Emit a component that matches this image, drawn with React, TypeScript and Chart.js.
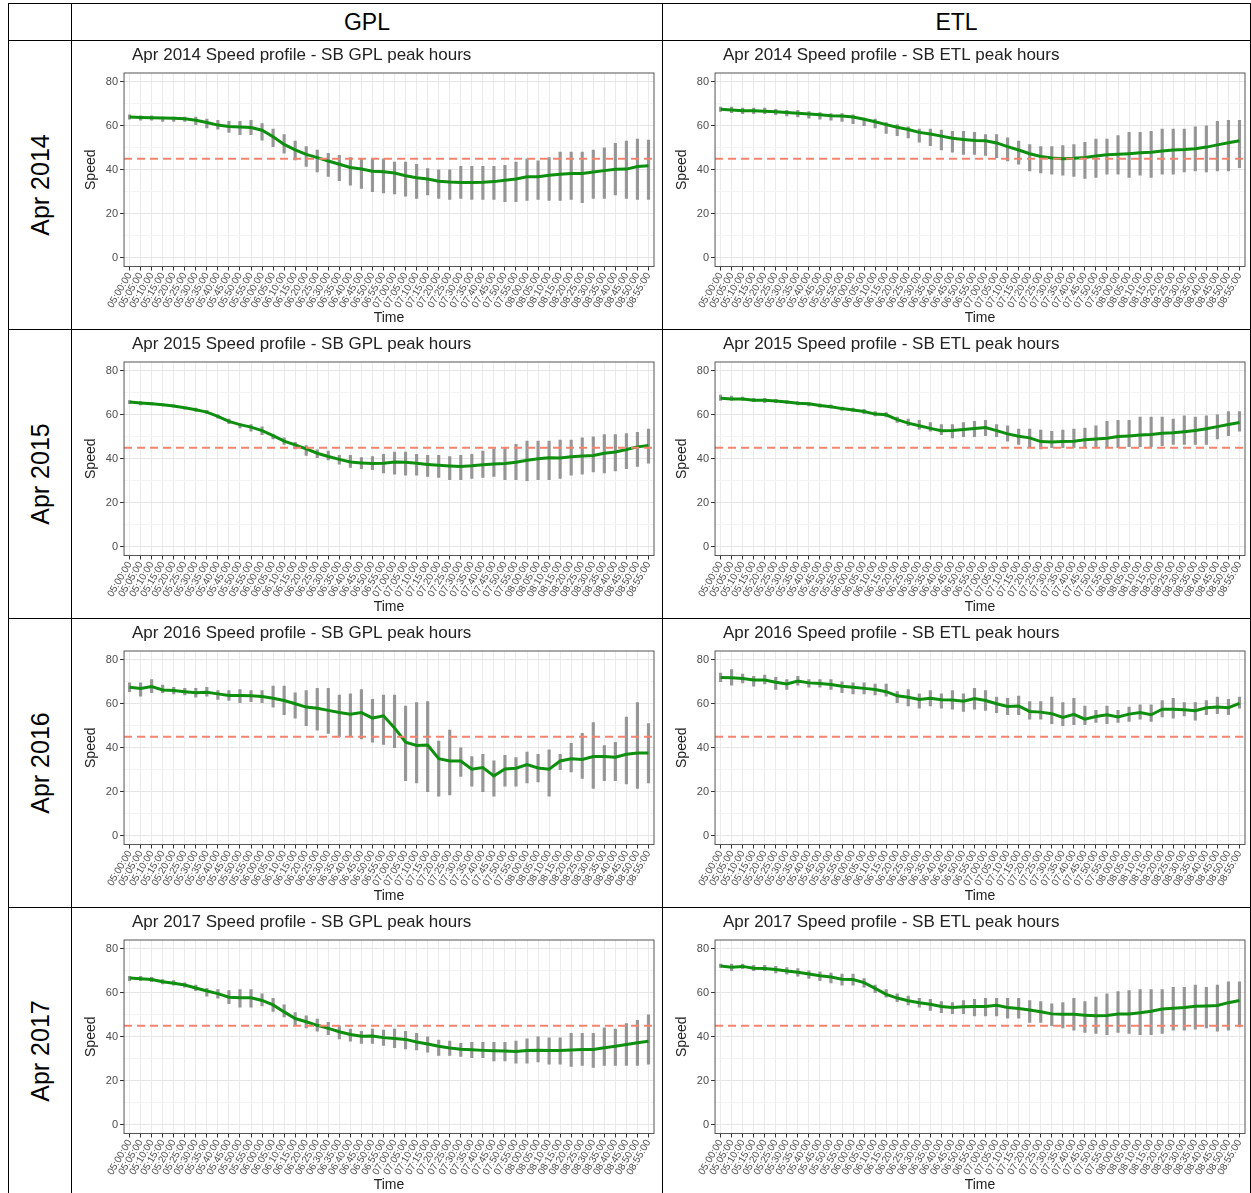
import { Chart, registerables } from "chart.js"
import { FC, useEffect, useRef } from "react"

Chart.register(...registerables)

const times: string[] = [
    "05:00:00", "05:05:00", "05:10:00", "05:15:00", "05:20:00", "05:25:00", "05:30:00", "05:35:00",
    "05:40:00", "05:45:00", "05:50:00", "05:55:00", "06:00:00", "06:05:00", "06:10:00", "06:15:00",
    "06:20:00", "06:25:00", "06:30:00", "06:35:00", "06:40:00", "06:45:00", "06:50:00", "06:55:00",
    "07:00:00", "07:05:00", "07:10:00", "07:15:00", "07:20:00", "07:25:00", "07:30:00", "07:35:00",
    "07:40:00", "07:45:00", "07:50:00", "07:55:00", "08:00:00", "08:05:00", "08:10:00", "08:15:00",
    "08:20:00", "08:25:00", "08:30:00", "08:35:00", "08:40:00", "08:45:00", "08:50:00", "08:55:00"
]
const yTicks = [0, 20, 40, 60, 80]
const threshold = 45

// GPL 2014
const gpl14Mean = [64, 63.8, 63.7, 63.5, 63.4, 63.2, 62.5, 61.5, 60.3, 59.7, 59.4, 59.2, 58, 55, 51.5, 49, 47, 45.5, 44, 42.5, 41, 40.3, 39.3, 39.1, 38.5, 37.3, 36.4, 35.8, 34.8, 34.4, 34.2, 34.2, 34.3, 34.6, 35.2, 35.8, 36.8, 36.8, 37.5, 38, 38.3, 38.3, 39, 39.6, 40.2, 40.3, 41.5, 41.8]
const gpl14Lo = [63, 62.5, 62.5, 62, 62, 62, 60.5, 59, 58.5, 57, 56, 56, 53.5, 50.5, 47.5, 44.5, 41.5, 39, 37, 35, 33, 31.5, 30, 29.5, 29, 28, 27, 28.5, 27, 26.5, 27, 26.5, 26.5, 26.5, 25.5, 25.5, 26, 26.5, 26, 26, 26.5, 25, 27, 27, 28.5, 27, 26.5, 26.5]
const gpl14Hi = [65, 64.5, 64.5, 64, 64, 64, 64, 63, 62.5, 62, 62, 62.5, 61, 58.5, 56, 53, 50.5, 49, 47.5, 46.5, 45.5, 45, 45, 45, 43.5, 43.5, 42.5, 40.5, 40, 40, 41.5, 41.5, 41.5, 41.5, 42, 43.5, 45, 44, 45.5, 48, 48, 48, 49, 50, 52, 53, 54, 53.5]

// ETL 2014
const etl14Mean = [67.5, 67.2, 66.8, 66.8, 66.6, 66.4, 66, 65.7, 65.4, 65, 64.6, 64.4, 64, 63, 61.8, 60.5, 59.3, 58.3, 57, 56.3, 55.3, 54.3, 53.8, 53.3, 53.2, 52.2, 50.5, 49, 47.3, 46, 45.3, 45, 45.2, 45.6, 46.2, 46.8, 47, 47.3, 47.7, 48, 48.5, 49, 49.2, 49.6, 50.3, 51.3, 52.3, 53.2]
const etl14Lo = [66.5, 66, 65.5, 65.5, 65.5, 65, 64.5, 64, 63.5, 63, 62.5, 62, 61, 60, 59, 56.5, 55.5, 54.5, 52.5, 51, 49, 48, 47, 47, 46.5, 45.5, 44, 42.5, 39.5, 38.5, 38, 37.5, 37, 36, 36.5, 38, 38, 36.5, 37.5, 36.5, 38, 38, 39, 39.5, 39, 39.5, 39.5, 41]
const etl14Hi = [68.5, 68.5, 68, 68, 68, 67.5, 67, 67, 66.5, 66, 65.5, 65.5, 65, 63.5, 63, 61.5, 60.5, 59.5, 58.5, 58.5, 58, 57.5, 57.5, 57, 56, 56, 54.5, 53, 51.5, 50.5, 50.5, 51, 51.5, 52.5, 54, 54, 55.5, 57, 57, 57.5, 58.5, 58.5, 58.5, 59.5, 60, 62, 62.5, 62.5]

// GPL 2015
const gpl15Mean = [65.8, 65.4, 65, 64.6, 64, 63.2, 62.3, 61.2, 59.3, 57, 55.5, 54.4, 52.8, 50.5, 48, 46.3, 44.5, 42.5, 41, 39.7, 38.5, 38.1, 37.8, 38, 38.5, 38.4, 37.9, 37.4, 37, 36.7, 36.5, 36.8, 37.3, 37.6, 37.8, 38.4, 39.3, 40, 40.4, 40.3, 40.9, 41.3, 41.5, 42.5, 43.1, 44.2, 45.4, 46]
const gpl15Lo = [65, 64.5, 64.5, 64, 63.5, 62.5, 61.5, 60.5, 58.5, 56, 54, 52.5, 51, 49, 46.5, 44.5, 41.5, 40.5, 39.5, 37.5, 36, 35.5, 35, 33.5, 33, 32.5, 32.5, 32, 31.5, 30.5, 30.5, 31, 31.5, 32, 30.5, 30.5, 30, 30.5, 30.5, 31, 32.5, 33, 34, 33.5, 34.5, 35.5, 36.5, 38]
const gpl15Hi = [66.5, 66, 65.5, 65, 64.5, 63.5, 63, 62, 60, 58, 56, 55.5, 54.5, 51, 49.5, 47.5, 46, 44, 43.5, 41.5, 41.5, 40.5, 41, 42, 43, 43, 42, 41.5, 41.5, 41, 41.5, 42, 43.5, 44.5, 45, 46.5, 48, 48, 48, 48.5, 48.5, 49.5, 50, 51, 51, 51.5, 52, 53.5]

// ETL 2015
const etl15Mean = [67.5, 67.2, 67.2, 66.6, 66.6, 66.3, 65.8, 65.2, 65, 64.2, 63.6, 62.8, 62.2, 61.5, 60.3, 60, 57.8, 56.2, 55, 53.8, 52.7, 52.8, 53.3, 53.8, 54.2, 52.8, 51.3, 50.2, 49.5, 47.8, 47.6, 47.8, 48, 48.6, 49, 49.3, 50.1, 50.4, 50.8, 51, 51.6, 51.8, 52.3, 52.8, 53.6, 54.6, 55.6, 56.5]
const etl15Lo = [66.5, 66.5, 66.5, 66, 65.5, 65.5, 65, 64.5, 64, 63.5, 63, 62, 61.5, 60.5, 59.5, 59, 56.5, 55, 53.5, 52.5, 51, 49.5, 50, 50, 50.5, 50, 48, 46.5, 45.5, 44.5, 45, 45, 45, 45.5, 45.5, 45, 45, 45.5, 45.5, 45.5, 46, 46.5, 46.5, 46.5, 46.5, 49, 50.5, 52.5]
const etl15Hi = [69, 68.5, 68, 67.5, 67.5, 67, 66.5, 66, 65.5, 65, 64.5, 63.5, 63, 62.5, 61.5, 61, 59, 58, 57.5, 56.5, 55.5, 55.5, 56.5, 57, 57.5, 55.5, 55, 53.5, 53.5, 53, 52.5, 53, 53.5, 54, 55, 57, 57.5, 57.5, 59, 59, 59, 58, 59.5, 59, 59.5, 60, 61.5, 61.5]

// GPL 2016
const gpl16Mean = [67.5, 67, 67.8, 66.3, 66, 65.5, 65, 65.2, 64.5, 63.8, 63.8, 63.6, 63.3, 62.5, 61.5, 60, 58.5, 58, 57, 56, 55.2, 56, 53.5, 54.5, 49, 42.5, 41, 41.2, 35, 34, 34, 30.2, 31, 27.2, 30.3, 30.7, 32.3, 30.8, 30.2, 34, 35, 34.7, 36, 36, 35.7, 37, 37.6, 37.6]
const gpl16Lo = [65.5, 63.5, 65, 65, 64.5, 64, 63, 63.5, 62, 61.5, 60.5, 61, 60.5, 58.5, 55, 53.5, 50, 48, 46.5, 45, 45, 44, 42.5, 41.5, 40, 25, 24, 20, 18, 18.5, 27, 22.5, 20, 18, 22.5, 22.5, 24, 24.5, 18, 30, 29, 26, 21.5, 25, 25, 23.5, 21.5, 24]
const gpl16Hi = [69.5, 69.5, 71, 68.5, 67.5, 67, 67, 67.5, 66, 66, 66.5, 66, 66, 68, 68, 65, 66, 67, 67, 64, 64.5, 66.5, 62, 64, 64, 59, 60.5, 61, 43, 48, 40, 36, 37, 34, 36.5, 35.5, 38, 37, 39, 37, 42, 46.5, 51.5, 41, 42.5, 54, 60.5, 51]

// ETL 2016
const etl16Mean = [72, 71.8, 71.5, 70.8, 70.8, 69.8, 69, 70.3, 69.5, 69.2, 68.8, 68, 67.5, 67, 66.5, 65.5, 63.6, 63, 62, 62.5, 61.8, 61.7, 61.2, 62.4, 61.5, 60, 58.8, 59, 56.5, 56.2, 55.5, 53.8, 55.2, 53, 54.2, 55, 54, 55.3, 56, 55, 57.5, 57.5, 57.3, 56.8, 58.2, 58.5, 58.2, 60.2]
const etl16Lo = [70, 68.5, 69.5, 68, 69, 66.5, 66.5, 68.5, 67.5, 67.5, 66.5, 65, 64.5, 64.5, 64, 63.5, 60.5, 59, 58, 59, 58, 57.5, 56.5, 57.5, 57, 56, 55, 55, 53, 53, 51, 50, 50.5, 50.5, 51.5, 51, 51.5, 52, 53, 52, 54, 53.5, 54.5, 52.5, 55, 55.5, 55, 58]
const etl16Hi = [74, 75.5, 73.5, 72.5, 73, 72, 71, 72.5, 71, 71, 71, 70, 69.5, 69.5, 69, 69, 65.5, 66.5, 64.5, 66, 64.5, 66, 64.5, 67, 66, 63, 62.5, 63.5, 61, 61, 63, 60.5, 62.5, 59, 57, 59, 57, 58.5, 59.5, 59.5, 61.5, 62.5, 60.5, 60.5, 61.5, 63, 62, 63]

// GPL 2017
const gpl17Mean = [66.7, 66.4, 66, 65, 64.3, 63.5, 62.2, 60.8, 59.6, 58, 57.7, 57.7, 56.5, 54.5, 51.3, 48.3, 46.8, 45.2, 43.8, 42.3, 41, 40.2, 40.3, 39.6, 39.2, 38.8, 37.6, 36.7, 35.7, 34.9, 34.3, 34.1, 33.8, 33.6, 33.5, 33.3, 33.7, 33.9, 33.8, 33.7, 34, 34.2, 34.2, 35, 35.7, 36.5, 37.3, 37.9]
const gpl17Lo = [65.5, 65.5, 65, 64, 63.5, 62.5, 61, 58.5, 57.5, 55, 53.5, 53.5, 54, 51.5, 49, 45.5, 44, 42.5, 41, 39, 38, 37, 37, 36, 35, 34.5, 34, 33, 31.5, 31.5, 31, 30.5, 30.5, 29, 29, 28, 28, 28.5, 27.5, 27.5, 26.5, 27, 26, 27, 27, 27, 27, 27.5]
const gpl17Hi = [67.5, 67.5, 67, 66, 65.5, 64.5, 63.5, 62, 61.5, 61, 61.5, 61.5, 59.5, 57.5, 54.5, 51, 49.5, 48, 46.5, 45, 43.5, 42.5, 43.5, 43, 43.5, 42.5, 41.5, 40, 38.5, 38, 37, 37.5, 37.5, 37.5, 37.5, 38, 39, 40, 39.5, 39.5, 41.5, 41.5, 41.5, 44, 43.5, 46, 47.5, 50]

// ETL 2017
const etl17Mean = [72.2, 71.6, 72, 71.2, 71, 70.6, 69.9, 69.3, 68.5, 67.7, 67.2, 66.2, 66, 64.6, 62, 59.3, 57.6, 56.4, 55.5, 54.8, 53.8, 53.3, 53.6, 53.8, 53.8, 54.3, 53.3, 52.8, 52.2, 51.4, 50.4, 50.2, 50.2, 49.8, 49.5, 49.7, 50.3, 50.4, 50.9, 51.6, 52.6, 53, 53.3, 53.9, 54, 54.2, 55.5, 56.5]
const etl17Lo = [71.5, 70, 71, 70, 70, 69, 68.5, 67.5, 66.5, 65.5, 64.5, 63.5, 63.5, 62.5, 60, 58, 56, 54.5, 53.5, 52, 51, 50.5, 50.5, 49.5, 49.5, 49.5, 48.5, 48.5, 46.5, 46.5, 45, 44, 43, 42, 41.5, 41, 42, 41.5, 41, 41, 41.5, 43, 43, 43.5, 44, 42.5, 43, 44.5]
const etl17Hi = [73, 73, 73, 72.5, 72.5, 72, 71.5, 71, 70, 69.5, 69, 68.5, 68.5, 66.5, 63.5, 61.5, 59.5, 58.5, 57.5, 57, 56, 55.5, 56.5, 57, 57.5, 57.5, 57.5, 57.5, 56.5, 56, 55, 55.5, 57.5, 56, 58, 59.5, 60.5, 61, 61.5, 61.5, 61.5, 62.5, 62.5, 63.5, 62.5, 63.5, 65, 65]

const rowLabels = ["Apr 2014", "Apr 2015", "Apr 2016", "Apr 2017"]
const colLabels = ["GPL", "ETL"]
const panels = [
    [{ mean: gpl14Mean, lo: gpl14Lo, hi: gpl14Hi }, { mean: etl14Mean, lo: etl14Lo, hi: etl14Hi }],
    [{ mean: gpl15Mean, lo: gpl15Lo, hi: gpl15Hi }, { mean: etl15Mean, lo: etl15Lo, hi: etl15Hi }],
    [{ mean: gpl16Mean, lo: gpl16Lo, hi: gpl16Hi }, { mean: etl16Mean, lo: etl16Lo, hi: etl16Hi }],
    [{ mean: gpl17Mean, lo: gpl17Lo, hi: gpl17Hi }, { mean: etl17Mean, lo: etl17Lo, hi: etl17Hi }]
]

const FONT = "'Liberation Sans', Arial, sans-serif"

const SpeedChart: FC<{ title: string; mean: number[]; lo: number[]; hi: number[] }> = ({ title, mean, lo, hi }) => {
    const ref = useRef<HTMLCanvasElement>(null)

    useEffect(() => {
        if (!ref.current) return
        const decor = {
            id: "decor",
            beforeDatasetsDraw(chart: any) {
                const { ctx, chartArea: a } = chart
                ctx.save()
                ctx.fillStyle = "#222"
                ctx.font = `17px ${FONT}`
                ctx.textBaseline = "middle"
                ctx.fillText(title, a.left + 8, 14)
                ctx.restore()
            },
            afterDatasetsDraw(chart: any) {
                const { ctx, chartArea: a, scales } = chart
                const y = scales.y.getPixelForValue(threshold)
                ctx.save()
                ctx.strokeStyle = "#f4846f"
                ctx.lineWidth = 1.8
                ctx.setLineDash([8, 5])
                ctx.beginPath()
                ctx.moveTo(a.left, y)
                ctx.lineTo(a.right, y)
                ctx.stroke()
                ctx.setLineDash([])
                ctx.strokeStyle = "#555"
                ctx.lineWidth = 1
                ctx.strokeRect(a.left, a.top, a.right - a.left, a.bottom - a.top)
                ctx.restore()
            }
        }
        const chart = new Chart(ref.current, {
            type: "bar",
            data: {
                labels: times,
                datasets: [
                    {
                        type: "line",
                        data: mean,
                        borderColor: "#0f8f0f",
                        borderWidth: 3,
                        pointRadius: 0,
                        order: 0
                    },
                    {
                        type: "bar",
                        data: lo.map((l, i) => [l, hi[i]]),
                        backgroundColor: "rgba(110,110,110,0.7)",
                        barThickness: 2.5,
                        order: 1
                    }
                ] as any
            },
            options: {
                animation: false,
                responsive: false,
                layout: { padding: { top: 32, right: 6, left: 7, bottom: 0 } },
                plugins: { legend: { display: false }, tooltip: { enabled: false } },
                scales: {
                    x: {
                        offset: true,
                        grid: { offset: false, color: "#ebebeb", tickLength: 4, tickColor: "#333" },
                        border: { display: false },
                        ticks: {
                            autoSkip: false,
                            minRotation: 60,
                            maxRotation: 60,
                            color: "#4d4d4d",
                            padding: 0,
                            font: { size: 10, family: FONT }
                        },
                        title: { display: true, text: "Time", color: "#222", padding: 0, font: { size: 14, family: FONT } }
                    },
                    y: {
                        min: -4,
                        max: 84,
                        afterBuildTicks: (s: any) => {
                            const t: any[] = []
                            yTicks.forEach((v, i) => {
                                t.push({ value: v })
                                if (i < yTicks.length - 1) t.push({ value: v + 10 })
                            })
                            s.ticks = t
                        },
                        grid: {
                            color: (c: any) => (c.tick && c.tick.value % 20 === 0 ? "#e6e6e6" : "#f3f3f3"),
                            tickLength: 4,
                            tickColor: (c: any) => (c.tick && c.tick.value % 20 === 0 ? "#333" : "rgba(0,0,0,0)")
                        },
                        border: { display: false },
                        ticks: {
                            color: "#4d4d4d",
                            padding: 2,
                            font: { size: 11, family: FONT },
                            callback: (v: any) => (Number(v) % 20 === 0 ? String(v) : "")
                        },
                        title: { display: true, text: "Speed", color: "#222", padding: 4, font: { size: 14, family: FONT } }
                    }
                }
            },
            plugins: [decor]
        })
        return () => chart.destroy()
    }, [])

    return <canvas ref={ref} width={588} height={286} style={{ display: "block" }} />
}

const line = "1.5px solid #000"

export default function App() {
    return (
        <div
            style={{
                position: "absolute",
                top: 3,
                left: 8,
                display: "grid",
                gridTemplateColumns: "63px 591px 588px",
                gridTemplateRows: "37px 289px 289px 289px 286px",
                borderTop: line,
                borderLeft: line,
                background: "#fff"
            }}
        >
            <div style={{ borderRight: line, borderBottom: line }} />
            {colLabels.map((c) => (
                <div
                    key={c}
                    style={{
                        borderRight: line,
                        borderBottom: line,
                        display: "flex",
                        alignItems: "center",
                        justifyContent: "center",
                        fontFamily: FONT,
                        fontSize: 23
                    }}
                >
                    {c}
                </div>
            ))}
            {rowLabels.map((r, ri) => [
                <div
                    key={r}
                    style={{
                        borderRight: line,
                        borderBottom: line,
                        position: "relative",
                        overflow: "hidden"
                    }}
                >
                    <div
                        style={{
                            position: "absolute",
                            left: "50%",
                            top: "50%",
                            transform: "translate(-50%,-50%) rotate(-90deg)",
                            whiteSpace: "nowrap",
                            fontFamily: FONT,
                            fontSize: 25
                        }}
                    >
                        {r}
                    </div>
                </div>,
                ...colLabels.map((c, ci) => (
                    <div key={r + c} style={{ borderRight: line, borderBottom: line, overflow: "hidden" }}>
                        <SpeedChart
                            title={`${r} Speed profile - SB ${c} peak hours`}
                            mean={panels[ri][ci].mean}
                            lo={panels[ri][ci].lo}
                            hi={panels[ri][ci].hi}
                        />
                    </div>
                ))
            ])}
        </div>
    )
}
